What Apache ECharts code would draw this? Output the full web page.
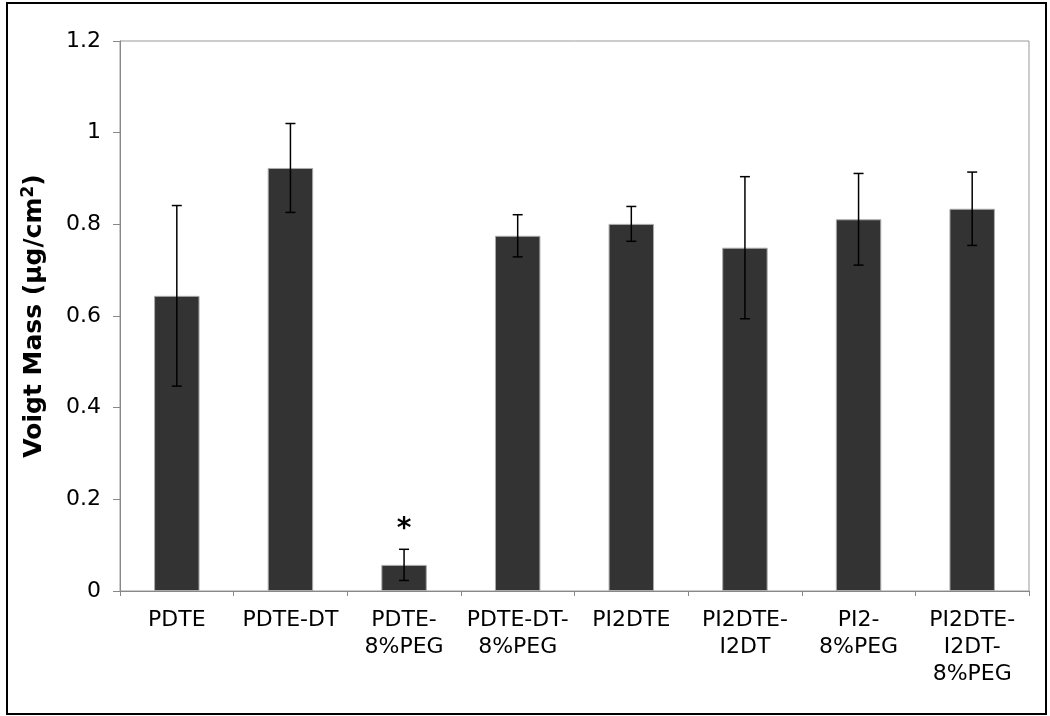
<!DOCTYPE html>
<html>
<head>
<meta charset="utf-8">
<script src="https://cdn.jsdelivr.net/npm/echarts@6/dist/echarts.min.js"></script>
<style>
html,body{margin:0;padding:0;background:#fff;}
#chart{width:1050px;height:716px;}
</style>
</head>
<body>
<div id="chart"></div>
<script>
const categories = ['PDTE', 'PDTE-DT', 'PDTE-\n8%PEG', 'PDTE-DT-\n8%PEG', 'PI2DTE', 'PI2DTE-\nI2DT', 'PI2-\n8%PEG', 'PI2DTE-\nI2DT-\n8%PEG'];
const means = [0.644, 0.923, 0.057, 0.775, 0.801, 0.749, 0.811, 0.834];
const errors = [0.197, 0.097, 0.034, 0.046, 0.038, 0.155, 0.100, 0.080];
const significance = ['', '', '*', '', '', '', '', ''];
const yTicks = { min: 0, max: 1.2, interval: 0.2 };

const chart = echarts.init(document.getElementById('chart'));
const errData = means.map((m, i) => [i, m - errors[i], m + errors[i], significance[i]]);

chart.setOption({
  animation: false,
  backgroundColor: '#fff',
  textStyle: { fontFamily: 'DejaVu Sans' },
  grid: { left: 120, right: 21, top: 41, bottom: 125, show: true, borderColor: '#999', borderWidth: 1, backgroundColor: 'transparent' },
  graphic: [{
    type: 'rect', shape: { x: 7, y: 3, width: 1039, height: 711 },
    style: { fill: 'none', stroke: '#000', lineWidth: 2 }, z: 100
  }],
  xAxis: {
    type: 'category',
    data: categories,
    axisLine: { lineStyle: { color: '#888', width: 1 } },
    axisTick: { show: true, inside: false, length: 5, lineStyle: { color: '#888' } },
    axisLabel: { color: '#000', fontSize: 22, lineHeight: 27, margin: 16, interval: 0, fontFamily: 'DejaVu Sans' },
    splitLine: { show: false }
  },
  yAxis: {
    type: 'value',
    min: yTicks.min, max: yTicks.max, interval: yTicks.interval,
    axisLine: { show: true, lineStyle: { color: '#888', width: 1 } },
    axisTick: { show: true, length: 7, lineStyle: { color: '#888' } },
    axisLabel: { color: '#000', fontSize: 22, margin: 19, fontFamily: 'DejaVu Sans' },
    splitLine: { show: false },
    name: '{t|Voigt Mass (µg/cm}{s|2}{t|)}',
    nameLocation: 'middle',
    nameGap: 71,
    nameRotate: 90,
    nameTextStyle: {
      rich: {
        t: { fontSize: 25, fontWeight: 'bold', color: '#000', fontFamily: 'DejaVu Sans' },
        s: { fontSize: 17, fontWeight: 'bold', color: '#000', fontFamily: 'DejaVu Sans', verticalAlign: 'top', padding: [0, 0, 12, 0] }
      }
    }
  },
  series: [{
    type: 'bar',
    data: means,
    barWidth: '40%',
    itemStyle: { color: '#333333', borderColor: '#aaaaaa', borderWidth: 1 },
    z: 2
  }, {
    type: 'custom',
    data: errData,
    z: 5,
    renderItem: function (params, api) {
      const i = api.value(0);
      const lo = api.coord([i, api.value(1)]);
      const hi = api.coord([i, api.value(2)]);
      const cap = 5;
      const style = { stroke: '#000', lineWidth: 1.5 };
      const children = [
        { type: 'line', shape: { x1: hi[0], y1: hi[1], x2: lo[0], y2: lo[1] }, style: style },
        { type: 'line', shape: { x1: hi[0] - cap, y1: hi[1], x2: hi[0] + cap, y2: hi[1] }, style: style },
        { type: 'line', shape: { x1: lo[0] - cap, y1: lo[1], x2: lo[0] + cap, y2: lo[1] }, style: style }
      ];
      const sig = significance[i];
      if (sig) {
        children.push({ type: 'text', style: { text: sig, x: hi[0], y: hi[1] - 6, align: 'center', verticalAlign: 'bottom', fontSize: 28, fontWeight: 'bold', fill: '#000', fontFamily: 'DejaVu Sans' } });
      }
      return { type: 'group', children: children };
    }
  }]
});
</script>
</body>
</html>
